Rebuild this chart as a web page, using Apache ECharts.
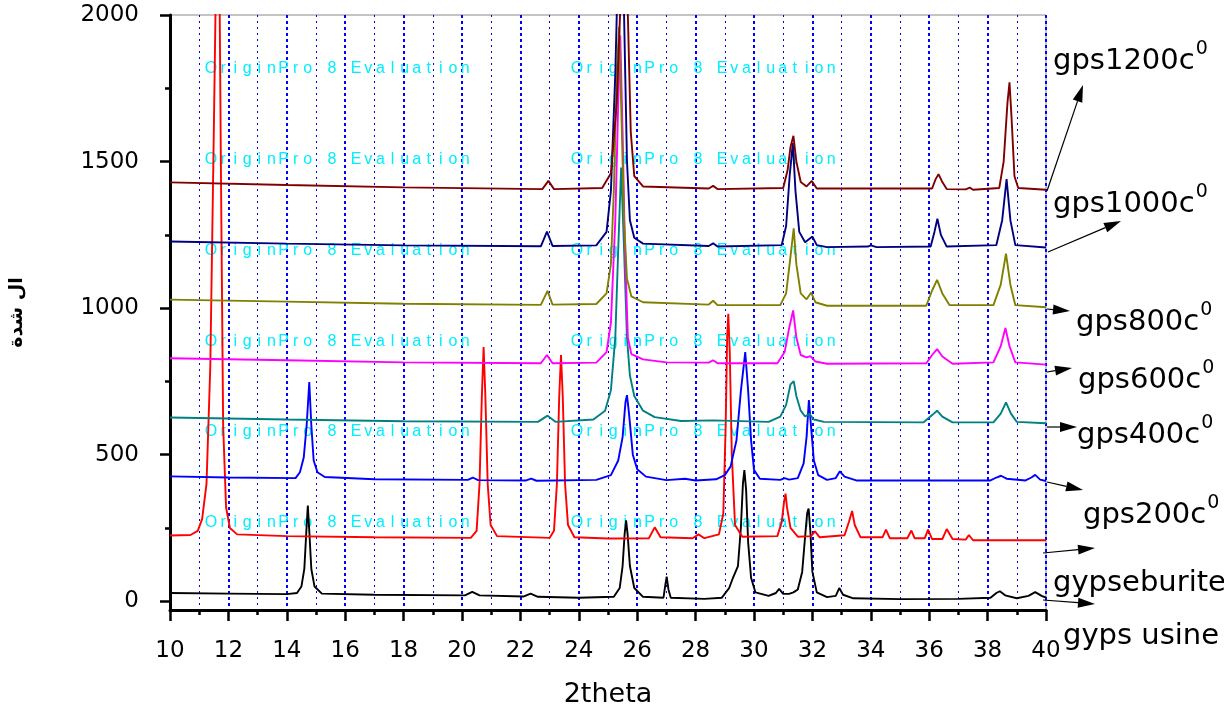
<!DOCTYPE html>
<html><head><meta charset="utf-8">
<script src="https://cdn.jsdelivr.net/npm/echarts@6/dist/echarts.min.js"></script>
<style>html,body{margin:0;padding:0;background:#fff}#c{width:1224px;height:713px}</style>
</head><body><div id="c"></div><script>
// ---- data (x = 2theta, y = intensity) ----
const gypsUsine = [[10,28],[12,26],[14,24],[14.35,28],[14.5,50],[14.6,110],[14.67,240],[14.72,326],[14.77,240],[14.84,110],[14.95,50],[15.2,26],[17,22],[20.1,20],[20.35,32],[20.6,20],[22.1,16],[22.35,26],[22.6,15],[24,12],[25.2,15],[25.4,45],[25.5,120],[25.57,230],[25.62,276],[25.67,230],[25.75,120],[25.9,45],[26.2,15],[26.9,12],[26.97,60],[27.01,84],[27.07,40],[27.15,12],[28.3,8],[28.9,12],[29.15,45],[29.28,80],[29.45,120],[29.55,250],[29.62,400],[29.67,447],[29.73,380],[29.8,200],[29.9,80],[30.05,30],[30.5,18],[30.75,28],[30.86,42],[31.0,25],[31.2,25],[31.35,30],[31.5,40],[31.65,100],[31.75,220],[31.82,300],[31.87,316],[31.93,240],[32.0,100],[32.15,30],[32.5,14],[32.8,18],[32.92,45],[33.05,22],[33.4,10],[35,7],[37,8],[38.1,12],[38.3,28],[38.42,34],[38.6,20],[39,10],[39.4,18],[39.63,31],[39.85,18],[40,12]];
const gypseburite = [[10,224],[10.7,226],[10.95,240],[11.1,280],[11.25,400],[11.38,800],[11.5,1600],[11.6,2300],[11.68,2300],[11.75,1400],[11.82,600],[11.92,320],[12.05,250],[12.3,228],[14,222],[17,218],[20.3,216],[20.5,240],[20.6,400],[20.68,700],[20.74,867],[20.8,700],[20.88,400],[20.98,260],[21.2,222],[23.0,216],[23.15,240],[23.25,400],[23.33,700],[23.39,840],[23.45,700],[23.53,400],[23.63,260],[23.85,218],[25.0,214],[26.4,215],[26.6,252],[26.8,218],[27.9,215],[28.1,228],[28.3,215],[28.8,228],[28.95,300],[29.03,600],[29.08,900],[29.12,981],[29.17,850],[29.24,500],[29.35,260],[29.6,220],[30.8,222],[30.95,270],[31.03,340],[31.08,367],[31.13,320],[31.25,250],[31.5,220],[31.95,222],[32.09,238],[32.25,218],[33.1,225],[33.25,270],[33.36,308],[33.45,260],[33.65,218],[34.4,218],[34.52,244],[34.65,215],[35.25,215],[35.39,241],[35.5,215],[35.85,215],[35.96,244],[36.1,212],[36.45,212],[36.6,246],[36.8,212],[37.25,210],[37.36,226],[37.5,208],[40,208]];
const gps200 = [[10,426],[12,422],[14.3,420],[14.45,440],[14.58,490],[14.68,600],[14.77,748],[14.84,600],[14.92,480],[15.05,440],[15.3,424],[17,416],[20.2,414],[20.37,422],[20.55,413],[22.2,412],[22.37,418],[22.55,411],[24.6,414],[25.1,430],[25.35,480],[25.5,560],[25.6,680],[25.65,703],[25.72,640],[25.85,500],[26.0,450],[26.3,425],[27.0,413],[27.64,418],[28.0,412],[28.7,416],[29.0,430],[29.2,460],[29.4,549],[29.55,717],[29.7,850],[29.8,717],[29.9,549],[30.0,448],[30.2,418],[30.9,414],[31.05,420],[31.2,415],[31.5,420],[31.7,470],[31.8,560],[31.88,686],[31.95,600],[32.05,480],[32.2,430],[32.5,414],[32.8,420],[32.94,443],[33.1,425],[33.5,412],[38.1,412],[38.3,422],[38.46,428],[38.65,418],[39.3,412],[39.5,422],[39.63,431],[39.8,415],[40,410]];
const gps400 = [[10,627],[14,620],[18,614],[22.6,612],[22.93,633],[23.2,612],[24.5,620],[24.9,650],[25.1,720],[25.25,900],[25.35,1200],[25.45,1480],[25.55,1200],[25.65,900],[25.75,770],[25.9,700],[26.2,650],[26.6,628],[27.5,615],[28.6,617],[30.5,612],[30.9,630],[31.1,670],[31.25,740],[31.36,751],[31.45,700],[31.6,650],[31.75,630],[31.9,639],[32.05,620],[32.4,612],[35.8,610],[36.1,635],[36.27,650],[36.45,630],[36.8,610],[38.2,610],[38.45,640],[38.63,678],[38.8,640],[39.0,612],[40,607]];
const gps600 = [[10,829],[14,822],[18,815],[22.7,812],[22.91,840],[23.1,812],[24.6,814],[24.95,850],[25.1,950],[25.25,1300],[25.35,1700],[25.42,1930],[25.5,1600],[25.58,1200],[25.68,900],[25.8,843],[26.2,825],[27,815],[28.45,814],[28.6,822],[28.75,812],[30.8,812],[31.05,850],[31.2,930],[31.34,992],[31.45,900],[31.6,840],[31.8,832],[31.93,836],[32.1,818],[32.5,810],[35.9,812],[36.1,840],[36.27,860],[36.45,835],[36.8,810],[38.2,815],[38.45,870],[38.61,932],[38.75,870],[38.95,815],[40,807]];
const gps800 = [[10,1029],[14,1022],[18,1015],[22.7,1011],[22.93,1059],[23.1,1012],[24.6,1014],[24.95,1050],[25.1,1150],[25.2,1400],[25.3,1800],[25.38,1960],[25.45,1700],[25.55,1300],[25.65,1100],[25.8,1040],[26.2,1020],[28.45,1012],[28.6,1025],[28.75,1010],[30.9,1010],[31.1,1050],[31.22,1150],[31.36,1272],[31.45,1150],[31.6,1050],[31.8,1030],[31.96,1053],[32.1,1020],[32.5,1008],[35.9,1008],[36.1,1060],[36.27,1096],[36.45,1050],[36.7,1010],[38.2,1010],[38.45,1080],[38.63,1186],[38.78,1080],[38.95,1010],[40,1003]];
const gps1000 = [[10,1227],[14,1220],[18,1214],[22.7,1211],[22.91,1261],[23.1,1212],[24.6,1214],[24.95,1260],[25.1,1400],[25.25,1800],[25.35,2200],[25.45,2300],[25.55,2000],[25.65,1500],[25.75,1300],[25.9,1240],[26.2,1220],[28.45,1212],[28.6,1221],[28.75,1210],[30.95,1215],[31.1,1280],[31.22,1450],[31.33,1563],[31.42,1400],[31.55,1260],[31.75,1225],[32.0,1244],[32.15,1215],[32.5,1208],[33.9,1210],[34.0,1214],[34.2,1208],[36.05,1210],[36.18,1260],[36.28,1305],[36.4,1250],[36.6,1210],[38.3,1215],[38.5,1300],[38.65,1440],[38.78,1300],[38.95,1215],[40,1207]];
const gps1200 = [[10,1429],[14,1420],[18,1412],[22.75,1406],[22.96,1434],[23.15,1406],[24.8,1410],[25.1,1460],[25.3,1700],[25.45,2100],[25.58,2300],[25.68,2000],[25.78,1600],[25.9,1450],[26.2,1415],[28.45,1408],[28.6,1417],[28.75,1406],[31.0,1410],[31.15,1470],[31.25,1550],[31.35,1588],[31.45,1500],[31.6,1430],[31.8,1415],[31.98,1434],[32.15,1408],[36.1,1408],[36.22,1440],[36.32,1457],[36.45,1430],[36.6,1406],[37.25,1405],[37.39,1411],[37.5,1404],[38.4,1410],[38.55,1500],[38.68,1700],[38.75,1770],[38.82,1650],[38.92,1450],[39.05,1410],[40,1404]];

const seriesNames = ['gyps usine','gypseburite','gps200c0','gps400c0','gps600c0','gps800c0','gps1000c0','gps1200c0'];
const seriesData = [gypsUsine, gypseburite, gps200, gps400, gps600, gps800, gps1000, gps1200];
const seriesColors = ['#000000','#ff0000','#0000ff','#008080','#ff00ff','#808000','#000080','#800000'];

const yTickValues = [0, 500, 1000, 1500, 2000];
const yMinorValues = [250, 750, 1250, 1750];
const xTitle = '2theta';
const yTitle = 'ال شدة';

// right-hand labels: [main text, has superscript 0]
const rightLabels = [
  ['gps1200c', true], ['gps1000c', true], ['gps800c', true], ['gps600c', true],
  ['gps400c', true], ['gps200c', true], ['gypseburite', false], ['gyps usine', false]
];
const watermarkText = 'OriginPro 8 Evaluation';

// ---- layout (annotation positions in pixels) ----
const labelPos = [[1053,58],[1053,201],[1076,319],[1078,377],[1077,432],[1083,512],[1053,580],[1063,633]];
const arrowPos = [
  [1047,191,1083,85],[1048,252,1121,221],[1047,309,1070,311],[1047,372,1072,368],
  [1047,427,1077,427],[1047,482,1083,490],[1043,553,1095,548],[1043,600,1095,604]
];
const wmRows = [69, 160, 251, 342, 432, 523];
const wmCols = [211, 577];

const chart = echarts.init(document.getElementById('c'), null, {renderer:'canvas'});

const graphics = [];
wmRows.forEach(ry => wmCols.forEach(cx => {
  for (let i = 0; i < watermarkText.length; i++) {
    const ch = watermarkText[i];
    if (ch === ' ') continue;
    graphics.push({type:'text', z:1, silent:true, x: cx + i*12.1, y: ry,
      style:{text: ch, fill:'#00eeff', font:'16px "Liberation Sans", Arial, sans-serif', textAlign:'center', textVerticalAlign:'middle'}});
  }
}));
rightLabels.forEach((lab, k) => {
  const [x, y] = labelPos[k];
  const txt = lab[1] ? '{a|' + lab[0] + '}{b|0}' : '{a|' + lab[0] + '}';
  graphics.push({type:'text', z:10, x, y, style:{
    text: txt, textVerticalAlign:'middle', textAlign:'left',
    rich:{
      a:{fontSize:29, fontFamily:'DejaVu Sans', fill:'#000', lineHeight:36, verticalAlign:'bottom'},
      b:{fontSize:19, fontFamily:'DejaVu Sans', fill:'#000', lineHeight:19, verticalAlign:'top', padding:[0,0,0,1]}
    }}});
});
function arrow(x1, y1, x2, y2) {
  const dx = x2-x1, dy = y2-y1, L = Math.hypot(dx, dy), ux = dx/L, uy = dy/L;
  const hl = 17, hw = 5;
  const bx = x2-ux*hl, by = y2-uy*hl;
  return [
    {type:'line', z:10, shape:{x1, y1, x2:bx, y2:by}, style:{stroke:'#000', lineWidth:1.2}},
    {type:'polygon', z:10, shape:{points:[[x2,y2],[bx-uy*hw, by+ux*hw],[bx+uy*hw, by-ux*hw]]}, style:{fill:'#000'}}
  ];
}
arrowPos.forEach(a => graphics.push(...arrow(a[0],a[1],a[2],a[3])));

const series = seriesData.map((d, i) => ({
  name: seriesNames[i], type:'line', data: d, showSymbol:false, symbol:'none',
  clip:true, z: 3 + i,
  lineStyle:{color: seriesColors[i], width:1.9}, itemStyle:{color: seriesColors[i]}
}));

chart.setOption({
  animation:false,
  backgroundColor:'#ffffff',
  grid:{left:160, right:178, top:15, bottom:94, show:true, borderColor:'#8a8a8a', borderWidth:1, backgroundColor:'transparent'},
  xAxis:[{
    type:'value', min:10, max:40, interval:2, position:'bottom',
    axisLine:{onZero:false, lineStyle:{color:'#000', width:3}},
    axisTick:{inside:false, length:11, lineStyle:{color:'#000', width:2.5}},
    minorTick:{show:true, splitNumber:2, length:5, lineStyle:{color:'#000', width:2.5}},
    axisLabel:{fontSize:23, fontFamily:'DejaVu Sans', color:'#000', margin:30, formatter: v => String(v)},
    splitLine:{show:true, lineStyle:{color:'#0000ff', width:2, type:[3,3]}},
    minorSplitLine:{show:true, lineStyle:{color:'#0000ff', width:1, type:[2,4]}},
    name: xTitle, nameLocation:'middle', nameGap:71,
    nameTextStyle:{fontSize:27, fontFamily:'DejaVu Sans', color:'#000'}
  }],
  yAxis:[{
    type:'value', min:-30, max:2000, position:'left',
    axisLine:{show:true, onZero:false, lineStyle:{color:'#000', width:3}},
    axisTick:{show:true, inside:false, length:10, customValues: yTickValues, lineStyle:{color:'#000', width:2.5}},
    axisLabel:{customValues: yTickValues, fontSize:23, fontFamily:'DejaVu Sans', color:'#000', margin:31, formatter: v => String(v)},
    splitLine:{show:false},
    name: yTitle, nameLocation:'middle', nameGap:143, nameRotate:90,
    nameTextStyle:{fontSize:19, fontWeight:'bold', fontFamily:'DejaVu Sans', color:'#000'}
  },{
    type:'value', min:-30, max:2000, position:'left',
    axisLine:{show:false},
    axisTick:{show:true, inside:false, length:5, customValues: yMinorValues, lineStyle:{color:'#000', width:2.5}},
    axisLabel:{show:false}, splitLine:{show:false}
  }],
  series,
  graphic:{elements: graphics}
});
</script></body></html>
